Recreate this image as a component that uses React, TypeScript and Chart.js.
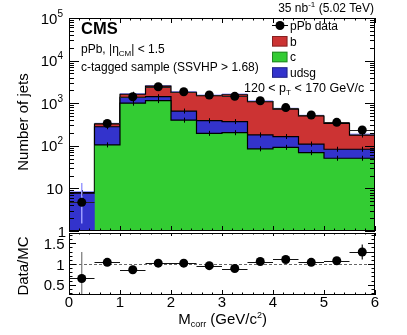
import React, { useEffect, useRef } from "react";
import { Chart, registerables } from "chart.js";
Chart.register(...registerables);

// ---------- data ----------
const binLow = [0, 0.5, 1, 1.5, 2, 2.5, 3, 3.5, 4, 4.5, 5, 5.5];
const binWidth = 0.5;
const cJets = [0, 105, 1000, 1150, 400, 196, 203, 85, 92, 69, 51, 51];
const udsgJets = [7.7, 175, 380, 270, 255, 192, 167, 95, 73, 41, 32, 32];
const bJets = [0.3, 45, 240, 1100, 1145, 1112, 1210, 905, 560, 390, 254, 96];
const mcUnc = [0.7, 22, 110, 170, 130, 110, 110, 80, 55, 38, 26, 15];
const dataJets = [4.7, 336, 1420, 2430, 1860, 1560, 1450, 1140, 790, 530, 355, 235];
const dataErrLo = [3.2, 18, 37, 49, 43, 39, 38, 34, 28, 23, 19, 15];
const dataErrHi = [8.7, 19, 38, 50, 44, 40, 39, 35, 29, 24, 20, 16];
const ratio = [0.65, 1.04, 0.86, 1.02, 1.02, 0.96, 0.89, 1.06, 1.11, 1.04, 1.08, 1.29];
const ratioErr = [0.64, 0.06, 0.05, 0.04, 0.04, 0.04, 0.04, 0.05, 0.06, 0.07, 0.09, 0.18];
const xTicks = [0, 1, 2, 3, 4, 5, 6];
const yTopTicks = [1, 10, 100, 1000, 10000, 100000];
const yTopLabels = [["1", ""], ["10", ""], ["10", "2"], ["10", "3"], ["10", "4"], ["10", "5"]];
const yRatioTicks = [0.5, 1, 1.5];
const yRatioLabels = ["0.5", "1", "1.5"];

const COL_B = "#cc3333";
const COL_C = "#33cc33";
const COL_UDSG = "#3333cc";
const COL_BAND = "#9c9cff";
const FONT = '"Liberation Sans", Arial, Helvetica, sans-serif';

const cumC = cJets.slice();
const cumU = cumC.map((v, i) => v + udsgJets[i]);
const cumB = cumU.map((v, i) => v + bJets[i]);
const cumBand = cumB.map((v, i) => v + mcUnc[i]);
const stepPts = (arr: number[]) => [
  ...arr.map((y, i) => ({ x: binLow[i], y })),
  { x: binLow[arr.length - 1] + binWidth, y: arr[arr.length - 1] },
];
const centers = binLow.map((v) => v + binWidth / 2);

type Part = { t: string; s?: number; dy?: number; bold?: boolean };
function rich(ctx: CanvasRenderingContext2D, parts: Part[], x: number, y: number, size: number, align: "left" | "right" | "center" = "left") {
  ctx.save();
  ctx.textBaseline = "alphabetic";
  ctx.textAlign = "left";
  const fontOf = (p: Part) => `${p.bold ? "bold " : ""}${p.s ?? size}px ${FONT}`;
  let w = 0;
  for (const p of parts) { ctx.font = fontOf(p); w += ctx.measureText(p.t).width; }
  let cx = align === "left" ? x : align === "right" ? x - w : x - w / 2;
  for (const p of parts) {
    ctx.font = fontOf(p);
    ctx.fillText(p.t, cx, y + (p.dy ?? 0));
    cx += ctx.measureText(p.t).width;
  }
  ctx.restore();
}

function line(ctx: CanvasRenderingContext2D, x1: number, y1: number, x2: number, y2: number) {
  ctx.beginPath(); ctx.moveTo(x1, y1); ctx.lineTo(x2, y2); ctx.stroke();
}

const topPlugin = {
  id: "topDecor",
  beforeDatasetDraw(chart: any, args: any) {
    if (args.index !== 0) return;
    const { ctx, chartArea: a } = chart;
    const xs = chart.scales.x, ys = chart.scales.y;
    ctx.save();
    ctx.beginPath(); ctx.rect(a.left, a.top, a.right - a.left, a.bottom - a.top); ctx.clip();
    // small MC error marks at bin centres
    ctx.strokeStyle = "#000"; ctx.lineWidth = 1;
    [cumC, cumU, cumB].forEach((arr) => arr.forEach((v, i) => {
      if (v <= 1) return;
      const px = Math.round(xs.getPixelForValue(centers[i])) + 0.5;
      const py = ys.getPixelForValue(v);
      line(ctx, px, py - 2.5, px, py + 2.5);
    }));
    dataJets.forEach((v, i) => {
      const py = ys.getPixelForValue(v);
      const x1 = xs.getPixelForValue(binLow[i]), x2 = xs.getPixelForValue(binLow[i] + binWidth);
      const px = xs.getPixelForValue(centers[i]);
      ctx.strokeStyle = COL_BAND; ctx.lineWidth = 1.5;
      line(ctx, px, ys.getPixelForValue(v + dataErrHi[i]), px, ys.getPixelForValue(Math.max(v - dataErrLo[i], 0.5)));
      ctx.strokeStyle = "#222"; ctx.lineWidth = 1;
      line(ctx, x1, Math.round(py) + 0.5, x2, Math.round(py) + 0.5);
    });
    ctx.restore();
  },
  afterDraw(chart: any) {
    const { ctx, chartArea: a } = chart;
    const xs = chart.scales.x, ys = chart.scales.y;
    ctx.save();
    ctx.strokeStyle = "#000"; ctx.lineWidth = 1;
    ctx.strokeRect(a.left + 0.5, a.top + 0.5, a.right - a.left - 1, a.bottom - a.top - 1);
    // x ticks (bottom & top)
    for (let k = 0; k <= 30; k++) {
      const v = k * 0.2;
      const px = Math.round(xs.getPixelForValue(v)) + 0.5;
      const major = k % 5 === 0;
      const L = major ? 5 : 2.5;
      line(ctx, px, a.bottom, px, a.bottom - L);
      line(ctx, px, a.top, px, a.top + L);
    }
    // log y ticks
    for (let d = 0; d <= 4; d++) {
      for (let m = 1; m <= 9; m++) {
        const v = m * Math.pow(10, d);
        const py = Math.round(ys.getPixelForValue(v)) + 0.5;
        const L = m === 1 ? 10 : 5;
        line(ctx, a.left, py, a.left + L, py);
        line(ctx, a.right, py, a.right - L, py);
      }
    }
    ctx.fillStyle = "#000";
    // y labels
    yTopTicks.forEach((v, i) => {
      const py = ys.getPixelForValue(v);
      const [base, exp] = yTopLabels[i];
      if (exp) rich(ctx, [{ t: base }, { t: exp, s: 10, dy: -7 }], 63, py + 5.5, 15, "right");
      else rich(ctx, [{ t: base }], i === 0 ? 66 : 63, py + 5.5, 15, "right");
    });
    // y title
    ctx.save();
    ctx.translate(24, 122); ctx.rotate(-Math.PI / 2);
    ctx.font = `15px ${FONT}`; ctx.textAlign = "center"; ctx.textBaseline = "middle";
    ctx.fillText("Number of jets", 0, 0);
    ctx.restore();
    // texts
    rich(ctx, [{ t: "CMS", bold: true }], 81, 33.5, 16.5);
    rich(ctx, [{ t: "pPb, |η" }, { t: "CM", s: 8, dy: 3 }, { t: "| < 1.5" }], 81, 52.5, 12);
    rich(ctx, [{ t: "c-tagged sample (SSVHP > 1.68)" }], 81, 70.5, 12);
    rich(ctx, [{ t: "35 nb" }, { t: "-1", s: 8, dy: -5 }, { t: " (5.02 TeV)" }], 374, 11.7, 12, "right");
    rich(ctx, [{ t: "120 < p" }, { t: "T", s: 8, dy: 3 }, { t: " < 170 GeV/c" }], 244, 91.7, 12.5);
    // legend
    ctx.strokeStyle = "#000"; ctx.lineWidth = 1;
    line(ctx, 272, 25.5, 288, 25.5);
    ctx.beginPath(); ctx.arc(280, 25.5, 4.5, 0, Math.PI * 2); ctx.fill();
    rich(ctx, [{ t: "pPb data" }], 290, 30, 12);
    const rows: [string, string, number][] = [["b", COL_B, 41.3], ["c", COL_C, 57], ["udsg", COL_UDSG, 72.5]];
    rows.forEach(([lab, col, y]) => {
      ctx.fillStyle = col;
      ctx.fillRect(272, y - 5.3, 15.5, 10.6);
      ctx.strokeStyle = "rgba(0,0,0,0.35)";
      ctx.strokeRect(272.5, y - 4.8, 14.5, 9.6);
      ctx.fillStyle = "#000";
      rich(ctx, [{ t: lab }], 290, y + 4.3, 12);
    });
    ctx.restore();
  },
};

const ratioPlugin = {
  id: "ratioDecor",
  beforeDatasetDraw(chart: any, args: any) {
    if (args.index !== 0) return;
    const { ctx, chartArea: a } = chart;
    const xs = chart.scales.x, ys = chart.scales.y;
    ctx.save();
    ctx.beginPath(); ctx.rect(a.left, a.top, a.right - a.left, a.bottom - a.top); ctx.clip();
    const y1 = Math.round(ys.getPixelForValue(1)) + 0.5;
    ctx.strokeStyle = "#666"; ctx.lineWidth = 1; ctx.setLineDash([3, 2]);
    line(ctx, a.left, y1, a.right, y1);
    ctx.setLineDash([]);
    ratio.forEach((v, i) => {
      const py = Math.round(ys.getPixelForValue(v)) + 0.5;
      const px = xs.getPixelForValue(centers[i]);
      ctx.strokeStyle = i === 0 ? "#777" : "#111"; ctx.lineWidth = 1.2;
      line(ctx, px, ys.getPixelForValue(v + ratioErr[i]), px, ys.getPixelForValue(v - ratioErr[i]));
      ctx.strokeStyle = "#111"; ctx.lineWidth = 1;
      line(ctx, xs.getPixelForValue(binLow[i]), py, xs.getPixelForValue(binLow[i] + binWidth), py);
    });
    ctx.restore();
  },
  afterDraw(chart: any) {
    const { ctx, chartArea: a } = chart;
    const xs = chart.scales.x, ys = chart.scales.y;
    ctx.save();
    ctx.strokeStyle = "#000"; ctx.lineWidth = 1;
    ctx.strokeRect(a.left + 0.5, a.top + 0.5, a.right - a.left - 1, a.bottom - a.top - 1);
    for (let k = 0; k <= 30; k++) {
      const v = k * 0.2;
      const px = Math.round(xs.getPixelForValue(v)) + 0.5;
      const major = k % 5 === 0;
      line(ctx, px, a.bottom, px, a.bottom - (major ? 5 : 2.5));
      line(ctx, px, a.top, px, a.top + (major ? 3 : 1.5));
    }
    for (let k = 3; k <= 17; k++) {
      const v = k / 10;
      const py = Math.round(ys.getPixelForValue(v)) + 0.5;
      const major = k % 5 === 0;
      const L = major ? 7 : 3.5;
      line(ctx, a.left, py, a.left + L, py);
      line(ctx, a.right, py, a.right - L, py);
    }
    ctx.fillStyle = "#000";
    yRatioTicks.forEach((v, i) => {
      rich(ctx, [{ t: yRatioLabels[i] }], 64.5, ys.getPixelForValue(v) + 5.5, 15, "right");
    });
    xTicks.forEach((v) => {
      rich(ctx, [{ t: String(v) }], xs.getPixelForValue(v), 307, 15, "center");
    });
    ctx.save();
    ctx.translate(24, 266); ctx.rotate(-Math.PI / 2);
    ctx.font = `15px ${FONT}`; ctx.textAlign = "center"; ctx.textBaseline = "middle";
    ctx.fillText("Data/MC", 0, 0);
    ctx.restore();
    rich(ctx, [{ t: "M" }, { t: "corr", s: 9, dy: 3 }, { t: " (GeV/c" }, { t: "2", s: 9, dy: -6 }, { t: ")" }], 267, 324, 15, "right");
    ctx.restore();
  },
};

export default function App() {
  const topRef = useRef<HTMLCanvasElement>(null);
  const botRef = useRef<HTMLCanvasElement>(null);
  useEffect(() => {
    const stack = (label: string, arr: number[], color: string, order: number, border = true) => ({
      type: "line" as const,
      label,
      data: stepPts(arr),
      stepped: "before" as const,
      fill: "start",
      backgroundColor: color,
      borderColor: border ? "#000" : color,
      borderWidth: border ? 1.2 : 0,
      pointRadius: 0,
      order,
    });
    const top = new Chart(topRef.current!, {
      type: "line",
      data: {
        datasets: [
          {
            type: "line",
            label: "pPb data",
            data: dataJets.map((y, i) => ({ x: centers[i], y })),
            showLine: false,
            pointRadius: 4.5,
            pointBackgroundColor: "#000",
            pointBorderWidth: 0,
            order: 0,
          } as any,
          stack("c", cumC, COL_C, 1),
          stack("udsg", cumU, COL_UDSG, 2),
          stack("b", cumB, COL_B, 3),
          stack("MC unc.", cumBand, COL_BAND, 4, false),
        ],
      },
      options: {
        animation: false,
        responsive: false,
        maintainAspectRatio: false,
        events: [],
        layout: { padding: { left: 69, right: 32, top: 18, bottom: 104 } },
        scales: {
          x: { type: "linear", min: 0, max: 6, display: false },
          y: { type: "logarithmic", min: 1, max: 100000, display: false },
        },
        plugins: { legend: { display: false }, tooltip: { enabled: false } },
      },
      plugins: [topPlugin],
    } as any);
    const bot = new Chart(botRef.current!, {
      type: "line",
      data: {
        datasets: [
          {
            label: "Data/MC",
            data: ratio.map((y, i) => ({ x: centers[i], y })),
            showLine: false,
            pointRadius: 4.5,
            pointBackgroundColor: "#000",
            pointBorderWidth: 0,
          },
        ],
      },
      options: {
        animation: false,
        responsive: false,
        maintainAspectRatio: false,
        events: [],
        layout: { padding: { left: 69, right: 32, top: 233, bottom: 40 } },
        scales: {
          x: { type: "linear", min: 0, max: 6, display: false },
          y: { type: "linear", min: 0.25, max: 1.75, display: false },
        },
        plugins: { legend: { display: false }, tooltip: { enabled: false } },
      },
      plugins: [ratioPlugin],
    } as any);
    return () => { top.destroy(); bot.destroy(); };
  }, []);
  const st: React.CSSProperties = { position: "absolute", left: 0, top: 0, width: 407, height: 335 };
  return (
    <div style={{ position: "fixed", left: 0, top: 0, width: 407, height: 335, background: "#fff" }}>
      <canvas ref={topRef} width={407} height={335} style={st} />
      <canvas ref={botRef} width={407} height={335} style={st} />
    </div>
  );
}
